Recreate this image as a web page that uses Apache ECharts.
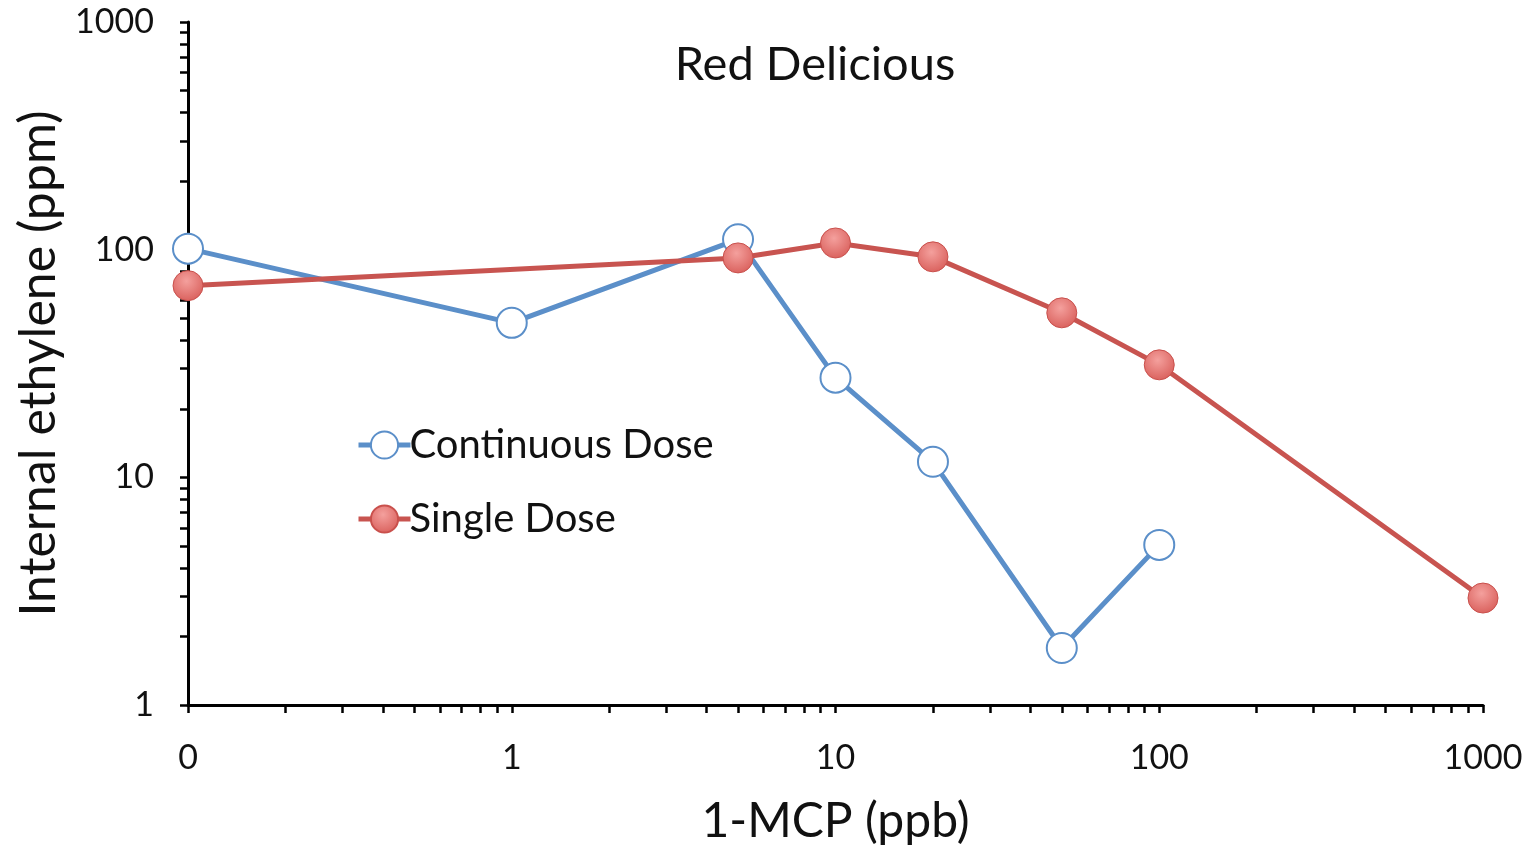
<!DOCTYPE html>
<html><head><meta charset="utf-8">
<script src="https://cdn.jsdelivr.net/npm/echarts@6/dist/echarts.min.js"></script>
<style>html,body{margin:0;padding:0;background:#fff}#c{width:1534px;height:846px}</style>
</head><body><div id="c"></div>
<script>
const titleText = 'Red Delicious';
const seriesNames = ['Continuous Dose', 'Single Dose'];
const continuousX = [0.1, 1, 5, 10, 20, 50, 100];
const continuousY = [101, 47.7, 111, 27.4, 11.7, 1.78, 5.05];
const singleX = [0.1, 5, 10, 20, 50, 100, 1000];
const singleY = [69.5, 92, 107, 93, 52.8, 31.2, 2.95];
const xMajor = [0.1, 1, 10, 100, 1000];
const xMajorLabels = ['0', '1', '10', '100', '1000'];
const yMajor = [1, 10, 100, 1000];
const yMajorLabels = ['1', '10', '100', '1000'];

function withMinor(majors) {
  const out = [];
  majors.forEach((m, i) => {
    out.push(m);
    if (i < majors.length - 1) for (let k = 2; k <= 9; k++) out.push(+(m * k).toPrecision(6));
  });
  return out;
}
const FONT = 'Lato';
const BLUE = '#5b8fc9';
const RED = '#c85450';

const chart = echarts.init(document.getElementById('c'));
chart.setOption({
  animation: false,
  backgroundColor: '#fff',
  title: {
    text: titleText, left: 810, top: 36, textAlign: 'center',
    textStyle: { fontFamily: FONT, fontSize: 47, fontWeight: 'normal', color: '#111' }
  },
  legend: {
    orient: 'vertical', left: 351, top: 420, itemGap: 34,
    itemWidth: 52, itemHeight: 34,
    lineStyle: { width: 5 },
    textStyle: { fontFamily: FONT, fontSize: 40, color: '#111', padding: [0, 0, 0, -6] },
    data: seriesNames
  },
  grid: { left: 188, right: 51, top: 22, bottom: 141, containLabel: false, outerBoundsMode: 'none' },
  xAxis: {
    type: 'log', min: 0.1, max: 1000, logBase: 10,
    name: '1-MCP (ppb)', nameLocation: 'middle', nameGap: 93,
    nameTextStyle: { fontFamily: FONT, fontSize: 48, color: '#111' },
    axisLine: { show: true, onZero: false, lineStyle: { color: '#000', width: 3 } },
    axisTick: { show: true, length: 8, lineStyle: { color: '#000', width: 2.5 }, customValues: withMinor(xMajor) },
    axisLabel: {
      margin: 36, fontFamily: FONT, fontSize: 34, color: '#111',
      customValues: xMajor,
      formatter: v => { const i = xMajor.findIndex(m => Math.abs(m - v) / m < 1e-6); return i >= 0 ? xMajorLabels[i] : ''; }
    },
    splitLine: { show: false }, minorTick: { show: false }
  },
  yAxis: {
    type: 'log', min: 1, max: 1000, logBase: 10,
    name: 'Internal ethylene (ppm)', nameLocation: 'middle', nameGap: 122,
    nameTextStyle: { fontFamily: FONT, fontSize: 50, color: '#111' },
    axisLine: { show: true, onZero: false, lineStyle: { color: '#000', width: 3 } },
    axisTick: { show: true, length: 8, lineStyle: { color: '#000', width: 2.5 }, customValues: withMinor(yMajor) },
    axisLabel: {
      margin: 34, fontFamily: FONT, fontSize: 34, color: '#111',
      customValues: yMajor,
      formatter: v => { const i = yMajor.findIndex(m => Math.abs(m - v) / m < 1e-6); return i >= 0 ? yMajorLabels[i] : ''; }
    },
    splitLine: { show: false }, minorTick: { show: false }
  },
  series: [
    {
      name: seriesNames[0], type: 'line',
      data: continuousX.map((x, i) => [x, continuousY[i]]),
      symbol: 'circle', symbolSize: 30,
      lineStyle: { color: BLUE, width: 5 },
      itemStyle: { color: '#fff', borderColor: BLUE, borderWidth: 2 }
    },
    {
      name: seriesNames[1], type: 'line',
      data: singleX.map((x, i) => [x, singleY[i]]),
      symbol: 'circle', symbolSize: 30,
      lineStyle: { color: RED, width: 5 },
      itemStyle: {
        color: { type: 'radial', x: 0.45, y: 0.35, r: 0.7, colorStops: [
          { offset: 0, color: '#f4a09d' }, { offset: 1, color: '#d85d59' }] },
        borderColor: '#c9504c', borderWidth: 1
      }
    }
  ]
});
</script></body></html>
